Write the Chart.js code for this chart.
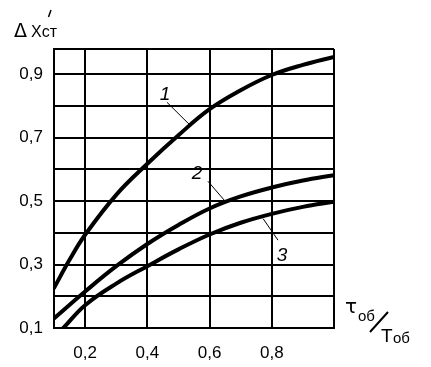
<!DOCTYPE html>
<html>
<head>
<meta charset="utf-8">
<script src="https://cdn.jsdelivr.net/npm/chart.js@4.4.1/dist/chart.umd.min.js"></script>
<style>
  body { margin: 0; background: #fff; }
  canvas { display: block; }
</style>
</head>
<body>
<canvas id="chart" width="431" height="367"></canvas>
<script>
// tick positions and labels
const xTicks = [0.1, 0.2, 0.4, 0.6, 0.8, 1.0];
const xTickLabels = ['', '0,2', '0,4', '0,6', '0,8', ''];
const yTicks = [0.1, 0.2, 0.3, 0.4, 0.5, 0.6, 0.7, 0.8, 0.9, 0.98];
const yTickLabels = ['0,1', '', '0,3', '', '0,5', '', '0,7', '', '0,9', ''];

// curve 1
const curve1X = [0.1, 0.15, 0.2, 0.3, 0.4, 0.5, 0.6, 0.7, 0.8, 0.9, 1.0];
const curve1Y = [0.226, 0.315, 0.394, 0.52, 0.618, 0.708, 0.79, 0.85, 0.898, 0.93, 0.955];
// curve 2
const curve2X = [0.1, 0.2, 0.3, 0.4, 0.5, 0.6, 0.7, 0.8, 0.9, 1.0];
const curve2Y = [0.13, 0.215, 0.295, 0.365, 0.425, 0.477, 0.515, 0.543, 0.565, 0.582];
// curve 3
const curve3X = [0.13, 0.2, 0.3, 0.4, 0.5, 0.6, 0.7, 0.8, 0.9, 1.0];
const curve3Y = [0.1, 0.172, 0.24, 0.295, 0.348, 0.395, 0.432, 0.46, 0.482, 0.498];

// curve numbers and their leader lines (data units)
const markLabels = ['1', '2', '3'];
const markLabelX = [0.457, 0.56, 0.833];
const markLabelY = [0.836, 0.588, 0.329];
const leaderX = [[0.463, 0.534], [0.595, 0.65], [0.772, 0.82]];
const leaderY = [[0.812, 0.743], [0.5625, 0.5], [0.445, 0.377]];

const pts = (xs, ys) => xs.map((x, i) => ({ x: x, y: ys[i] }));

const curveStyle = {
  showLine: true,
  borderColor: '#000',
  borderWidth: 4,
  pointRadius: 0,
  tension: 0.4,
  borderCapStyle: 'round',
};

const datasets = [
  Object.assign({ label: '1', data: pts(curve1X, curve1Y) }, curveStyle),
  Object.assign({ label: '2', data: pts(curve2X, curve2Y) }, curveStyle),
  Object.assign({ label: '3', data: pts(curve3X, curve3Y) }, curveStyle),
];
leaderX.forEach((xs, i) => {
  datasets.push({
    label: 'leader ' + markLabels[i],
    data: pts(xs, leaderY[i]),
    showLine: true,
    borderColor: '#000',
    borderWidth: 1,
    pointRadius: 0,
  });
});

// curve numbers + axis titles
const textPlugin = {
  id: 'texts',
  afterDatasetsDraw(chart) {
    const ctx = chart.ctx;
    const xs = chart.scales.x, ys = chart.scales.y;
    ctx.save();
    ctx.fillStyle = '#000';
    ctx.strokeStyle = '#000';
    ctx.font = 'italic 19px "Liberation Sans"';
    ctx.textAlign = 'center';
    ctx.textBaseline = 'middle';
    markLabels.forEach((t, i) => {
      ctx.fillText(t, xs.getPixelForValue(markLabelX[i]), ys.getPixelForValue(markLabelY[i]));
    });

    // y axis title
    ctx.textAlign = 'left';
    ctx.textBaseline = 'alphabetic';
    ctx.font = '19px "DejaVu Sans"';
    ctx.fillText('Δ', 14, 37);
    ctx.font = '16px "Liberation Sans"';
    ctx.fillText('Xст', 31, 37);
    ctx.lineWidth = 1.5;
    ctx.beginPath();
    ctx.moveTo(51, 10);
    ctx.lineTo(48.5, 17);
    ctx.stroke();

    // x axis title
    ctx.font = '20px "DejaVu Sans"';
    ctx.fillText('τ', 345, 313);
    ctx.font = '15px "Liberation Sans"';
    ctx.fillText('об', 358, 321);
    ctx.lineWidth = 2;
    ctx.beginPath();
    ctx.moveTo(370, 332);
    ctx.lineTo(388, 312);
    ctx.stroke();
    ctx.font = '19px "Liberation Sans"';
    ctx.fillText('Т', 381, 342);
    ctx.font = '15px "Liberation Sans"';
    ctx.fillText('об', 393, 343);
    ctx.restore();
  }
};

new Chart(document.getElementById('chart'), {
  type: 'scatter',
  data: { datasets: datasets },
  options: {
    responsive: false,
    animation: false,
    layout: { padding: { top: 49, right: 97, left: 0, bottom: 0 } },
    plugins: {
      legend: { display: false },
      tooltip: { enabled: false },
    },
    scales: {
      x: {
        type: 'linear',
        min: 0.1,
        max: 1.0,
        afterBuildTicks: (scale) => { scale.ticks = xTicks.map(v => ({ value: v })); },
        afterFit: (scale) => { scale.height = 39; },
        grid: { color: '#000', lineWidth: 2, drawTicks: false },
        border: { color: '#000', width: 2 },
        ticks: {
          color: '#000',
          padding: 15,
          maxRotation: 0,
          autoSkip: false,
          font: { family: '"Liberation Sans"', size: 17 },
          callback: (v, i) => xTickLabels[i],
        },
      },
      y: {
        type: 'linear',
        min: 0.1,
        max: 0.98,
        afterBuildTicks: (scale) => { scale.ticks = yTicks.map(v => ({ value: v })); },
        afterFit: (scale) => { scale.width = 54; },
        grid: { color: '#000', lineWidth: 2, drawTicks: false },
        border: { color: '#000', width: 2 },
        ticks: {
          color: '#000',
          padding: 11,
          autoSkip: false,
          font: { family: '"Liberation Sans"', size: 17 },
          callback: (v, i) => yTickLabels[i],
        },
      },
    },
  },
  plugins: [textPlugin],
});
</script>
</body>
</html>
